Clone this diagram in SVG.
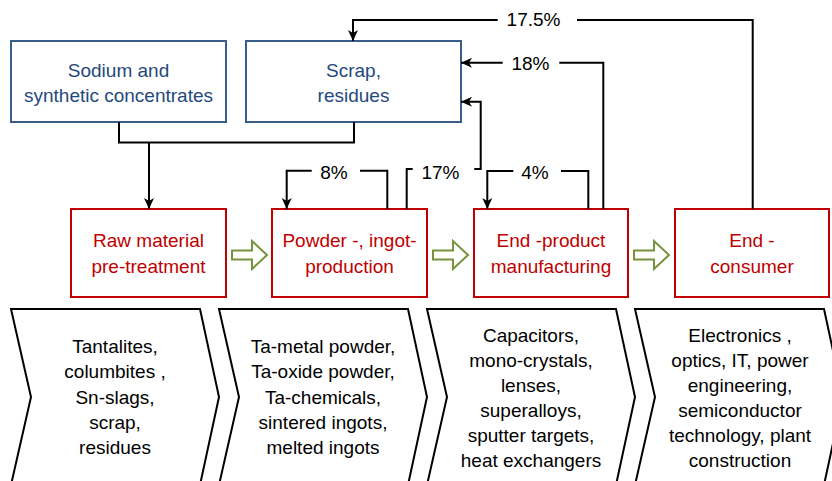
<svg xmlns="http://www.w3.org/2000/svg" width="832" height="481" viewBox="0 0 832 481">
  <style>
    text { font-family: "Liberation Sans", Arial, sans-serif; font-size: 19px; text-anchor: middle; }
    .src rect { fill: #ffffff; stroke: #385D8A; stroke-width: 2; }
    .src text { fill: #1F497D; }
    .stage rect { fill: #ffffff; stroke: #C00000; stroke-width: 2; }
    .stage text { fill: #C00000; }
    .chev path { fill: #ffffff; stroke: #000000; stroke-width: 2; stroke-linejoin: miter; }
    .chev text { fill: #000000; }
    .flow { fill: #ffffff; stroke: #77933C; stroke-width: 2; }
    .link { fill: none; stroke: #000000; stroke-width: 2; }
    .pct { fill: #000000; }
  </style>
  <defs>
    <marker id="arrow" markerUnits="userSpaceOnUse" markerWidth="12" markerHeight="12" refX="11" refY="5" orient="auto" viewBox="0 0 12 10">
      <path d="M0,0 L11,5 L0,10 L3,5 z" fill="#000000"/>
    </marker>
  </defs>
  <rect width="832" height="481" fill="#ffffff"/>

  <!-- product chevrons along the bottom -->
  <g id="chevron-raw" class="chev">
    <path d="M11,309 H200 L219,397 L200,485 H11 L31,397 Z"/>
    <text x="115" y="353">Tantalites,</text>
    <text x="115" y="378.3">columbites ,</text>
    <text x="115" y="403.6">Sn-slags,</text>
    <text x="115" y="428.9">scrap,</text>
    <text x="115" y="454.2">residues</text>
  </g>
  <g id="chevron-powder" class="chev">
    <path d="M219,309 H408 L427,397 L408,485 H219 L239,397 Z"/>
    <text x="323" y="353">Ta-metal powder,</text>
    <text x="323" y="378.3">Ta-oxide powder,</text>
    <text x="323" y="403.6">Ta-chemicals,</text>
    <text x="323" y="428.9">sintered ingots,</text>
    <text x="323" y="454.2">melted ingots</text>
  </g>
  <g id="chevron-products" class="chev">
    <path d="M427,309 H616 L635,397 L616,485 H427 L447,397 Z"/>
    <text x="531" y="341.7">Capacitors,</text>
    <text x="531" y="366.7">mono-crystals,</text>
    <text x="531" y="391.7">lenses,</text>
    <text x="531" y="416.7">superalloys,</text>
    <text x="531" y="441.7">sputter targets,</text>
    <text x="531" y="466.7">heat exchangers</text>
  </g>
  <g id="chevron-consumer" class="chev">
    <path d="M635,309 H824 L843,397 L824,485 H635 L655,397 Z"/>
    <text x="740" y="341.7">Electronics ,</text>
    <text x="740" y="366.7">optics, IT, power</text>
    <text x="740" y="391.7">engineering,</text>
    <text x="740" y="416.7">semiconductor</text>
    <text x="740" y="441.7">technology, plant</text>
    <text x="740" y="466.7">construction</text>
  </g>

  <!-- input boxes -->
  <g id="sodium" class="src">
    <rect x="11" y="41" width="215" height="81"/>
    <text x="118.5" y="77">Sodium and</text>
    <text x="118.5" y="102">synthetic concentrates</text>
  </g>
  <g id="scrap" class="src">
    <rect x="246" y="41" width="215" height="81"/>
    <text x="353.5" y="77">Scrap,</text>
    <text x="353.5" y="102">residues</text>
  </g>

  <!-- process stages -->
  <g id="pretreatment" class="stage">
    <rect x="71" y="209" width="155" height="88"/>
    <text x="148.5" y="247.3">Raw material</text>
    <text x="148.5" y="272.6">pre-treatment</text>
  </g>
  <g id="production" class="stage">
    <rect x="272" y="209" width="155" height="88"/>
    <text x="349.5" y="247.3">Powder -, ingot-</text>
    <text x="349.5" y="272.6">production</text>
  </g>
  <g id="manufacturing" class="stage">
    <rect x="474" y="209" width="154" height="88"/>
    <text x="551" y="247.3">End -product</text>
    <text x="551" y="272.6">manufacturing</text>
  </g>
  <g id="consumer" class="stage">
    <rect x="675" y="209" width="154" height="88"/>
    <text x="752" y="247.3">End -</text>
    <text x="752" y="272.6">consumer</text>
  </g>

  <!-- stage-to-stage block arrows -->
  <g id="flow-arrows" class="flow">
    <polygon points="232,250.5 252,250.5 252,241 267,255 252,269 252,259.5 232,259.5"/>
    <polygon points="433,250.5 453,250.5 453,241 468,255 453,269 453,259.5 433,259.5"/>
    <polygon points="634,250.5 654,250.5 654,241 669,255 654,269 654,259.5 634,259.5"/>
  </g>

  <!-- material flows -->
  <g id="connectors">
    <path class="link" d="M119,122 V142.5 H354 V122"/>
    <path class="link" d="M149,142.5 V209" marker-end="url(#arrow)"/>

    <path class="link" d="M752.7,209 V20 H577"/>
    <path class="link" d="M497.7,20 H353 V41" marker-end="url(#arrow)"/>
    <text class="pct" x="533.5" y="26">17.5%</text>

    <path class="link" d="M603.3,209 V62.7 H559.3"/>
    <path class="link" d="M502.7,62.7 H461" marker-end="url(#arrow)"/>
    <text class="pct" x="530.5" y="70">18%</text>

    <path class="link" d="M406.7,209 V169 H412.7"/>
    <path class="link" d="M474.3,169 H480.7 V101.7 H461" marker-end="url(#arrow)"/>
    <text class="pct" x="440.5" y="178.5">17%</text>

    <path class="link" d="M387.3,209 V170.7 H360"/>
    <path class="link" d="M311.7,170.7 H286.7 V209" marker-end="url(#arrow)"/>
    <text class="pct" x="334" y="179">8%</text>

    <path class="link" d="M588.3,209 V171 H561"/>
    <path class="link" d="M513.3,171 H487.3 V209" marker-end="url(#arrow)"/>
    <text class="pct" x="535" y="179">4%</text>
  </g>
</svg>
